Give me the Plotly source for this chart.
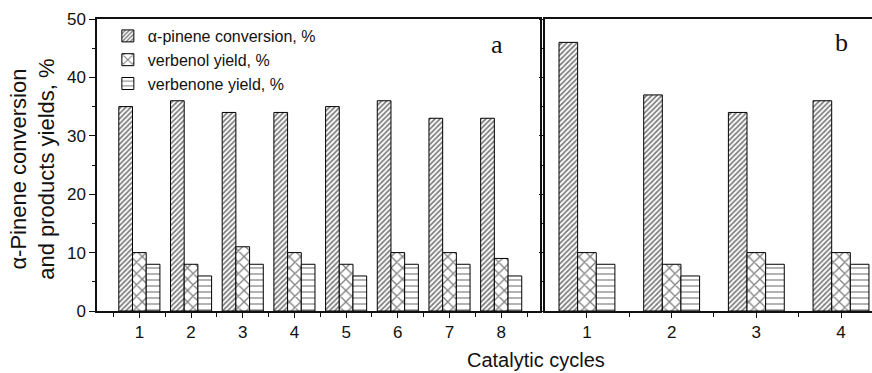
import plotly.graph_objects as go

# Panel a: eight catalytic cycles
cycles_a = [1, 2, 3, 4, 5, 6, 7, 8]
conversion_a = [35, 36, 34, 34, 35, 36, 33, 33]
verbenol_a = [10, 8, 11, 10, 8, 10, 10, 9]
verbenone_a = [8, 6, 8, 8, 6, 8, 8, 6]

# Panel b: four catalytic cycles
cycles_b = [1, 2, 3, 4]
conversion_b = [46, 37, 34, 36]
verbenol_b = [10, 8, 10, 10]
verbenone_b = [8, 6, 8, 8]

series_names = ["α-pinene conversion, %", "verbenol yield, %", "verbenone yield, %"]
y_ticks = [0, 10, 20, 30, 40, 50]

patterns = [
    dict(shape="/", size=3.6, solidity=0.48, fgcolor="black", bgcolor="white"),
    dict(shape="x", size=8, solidity=0.3, fgcolor="black", bgcolor="white"),
    dict(shape="-", size=6, solidity=0.2, fgcolor="black", bgcolor="white"),
]

width_a, offsets_a = 0.265, [-0.398, -0.133, 0.132]
width_b, offsets_b = 0.22, [-0.33, -0.11, 0.11]

fig = go.Figure()

for i, (name, vals) in enumerate(zip(series_names, [conversion_a, verbenol_a, verbenone_a])):
    fig.add_trace(go.Bar(
        x=cycles_a, y=vals, name=name, width=width_a, offset=offsets_a[i],
        marker=dict(color="white", line=dict(color="black", width=1), pattern=patterns[i]),
        xaxis="x", yaxis="y", showlegend=True,
    ))

for i, (name, vals) in enumerate(zip(series_names, [conversion_b, verbenol_b, verbenone_b])):
    fig.add_trace(go.Bar(
        x=cycles_b, y=vals, name=name, width=width_b, offset=offsets_b[i],
        marker=dict(color="white", line=dict(color="black", width=1), pattern=patterns[i]),
        xaxis="x2", yaxis="y2", showlegend=False,
    ))

sans = "Liberation Sans, Arial, sans-serif"
serif = "Liberation Serif, Times New Roman, serif"
axis_font = dict(family=sans, size=17, color="#111")
line_style = dict(showline=True, linecolor="#111", linewidth=1.5, showgrid=False, zeroline=False)

fig.update_layout(
    width=872, height=373,
    margin=dict(l=97, r=0, t=19, b=62),
    paper_bgcolor="white", plot_bgcolor="white",
    barmode="overlay",
    font=axis_font,
    xaxis=dict(
        domain=[0, 0.5716], range=[0.18, 8.75], anchor="y",
        tickmode="array", tickvals=cycles_a, ticktext=[str(c) for c in cycles_a],
        ticks="outside", ticklen=5, tickwidth=1, tickcolor="#111", mirror=True,
        minor=dict(dtick=0.5, tick0=0.5, ticks="outside", ticklen=4, tickcolor="#111"),
        tickfont=axis_font, **line_style,
    ),
    yaxis=dict(
        domain=[0, 1], range=[0, 50], anchor="x",
        tickmode="array", tickvals=y_ticks, ticks="outside", ticklen=6, tickwidth=1,
        tickcolor="#111", mirror=True,
        minor=dict(dtick=5, tick0=0, ticks="outside", ticklen=3, tickcolor="#111"),
        tickfont=axis_font, **line_style,
    ),
    xaxis2=dict(
        domain=[0.578, 1], range=[0.504, 4.366], anchor="y2",
        tickmode="array", tickvals=cycles_b, ticktext=[str(c) for c in cycles_b],
        ticks="outside", ticklen=5, tickwidth=1, tickcolor="#111", mirror=True,
        minor=dict(dtick=0.5, tick0=0.5, ticks="outside", ticklen=4, tickcolor="#111"),
        tickfont=axis_font, **line_style,
    ),
    yaxis2=dict(
        domain=[0, 1], range=[0, 50], anchor="x2",
        tickmode="array", tickvals=y_ticks, showticklabels=False,
        ticks="outside", ticklen=4, tickwidth=1, tickcolor="#111",
        minor=dict(dtick=5, tick0=0, ticks="outside", ticklen=3, tickcolor="#111"),
        **line_style,
    ),
    legend=dict(
        x=0.014, y=1.0, xanchor="left", yanchor="top",
        bgcolor="rgba(0,0,0,0)", borderwidth=0,
        font=dict(family=sans, size=16, color="#111"),
        tracegroupgap=0,
    ),
    annotations=[
        dict(text="a", xref="paper", yref="paper", x=0.516, y=0.911,
             showarrow=False, xanchor="center", yanchor="middle",
             font=dict(family=serif, size=26, color="#111")),
        dict(text="b", xref="paper", yref="paper", x=0.96, y=0.921,
             showarrow=False, xanchor="center", yanchor="middle",
             font=dict(family=serif, size=26, color="#111")),
        dict(text="α-Pinene conversion<br>and products yields, %", xref="paper", yref="paper",
             x=-0.083, y=0.486, textangle=-90, showarrow=False,
             xanchor="center", yanchor="middle",
             font=dict(family=sans, size=22, color="#111")),
        dict(text="Catalytic cycles", xref="paper", yref="paper",
             x=0.566, y=-0.2123, showarrow=False, xanchor="center", yanchor="bottom",
             font=dict(family=sans, size=20, color="#111")),
    ],
)

fig.write_html("out.html")
